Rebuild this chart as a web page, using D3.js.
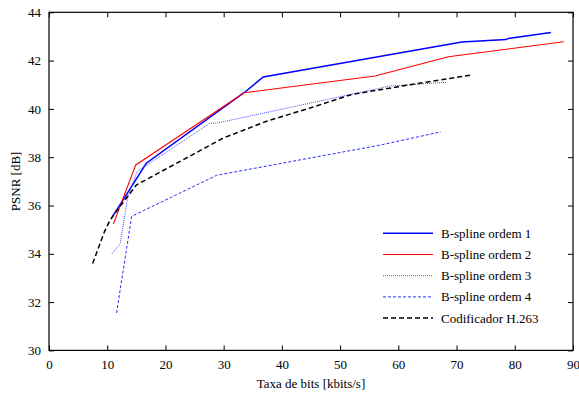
<!DOCTYPE html>
<html><head><meta charset="utf-8">
<script src="https://cdn.jsdelivr.net/npm/d3@7"></script>
<style>body{margin:0;background:#fff}svg{display:block}text{font-family:"Liberation Serif","Times New Roman",serif;fill:#000}</style>
</head><body><svg id="c" width="579" height="400"></svg>
<script>
const xTicks = [0,10,20,30,40,50,60,70,80,90];
const yTicks = [30,32,34,36,38,40,42,44];
const seriesNames = ["B-spline ordem 1","B-spline ordem 2","B-spline ordem 3","B-spline ordem 4","Codificador H.263"];
const ordem1 = [[10.8,35.5],[16.7,37.75],[33.5,40.67],[36.8,41.32],[70.9,42.77],[78.5,42.87],[78.9,42.92],[86.2,43.16]];
const ordem2 = [[11.05,35.23],[14.9,37.68],[33.5,40.67],[56,41.36],[68.6,42.16],[88.4,42.78]];
const ordem3 = [[10.8,34.0],[12.2,34.4],[13.5,36.3],[15.1,37.4],[27.6,39.4],[29,39.42],[58.6,40.95],[68.3,41.1]];
const ordem4 = [[11.6,31.55],[14.2,35.55],[28.8,37.25],[56.85,38.5],[67.3,39.05]];
const h263 = [[7.5,33.6],[9.5,34.9],[10.5,35.4],[12,35.9],[15,36.85],[20,37.5],[25,38.15],[30,38.8],[37.5,39.5],[45,40.05],[52,40.6],[60,40.92],[72.5,41.4]];

const styles = [
  {color:"#0000ff", w:1.5, dash:null},
  {color:"#ff0000", w:1.1, dash:null},
  {color:"#4b4bff", w:1, dash:"1,1"},
  {color:"#2a2aff", w:1, dash:"3,2"},
  {color:"#000000", w:1.5, dash:"5,3"}
];
const data = [ordem1, ordem2, ordem3, ordem4, h263];

const svg = d3.select("#c");
const L=49, R=573, T=12.3, B=350.4;
const x = d3.scaleLinear().domain([0,90]).range([L,R]);
const y = d3.scaleLinear().domain([30,44]).range([B,T]);

const g = svg.append("g");
g.append("g").attr("transform",`translate(0,${B})`).call(d3.axisBottom(x).tickValues(xTicks).tickSizeInner(-5).tickSizeOuter(0).tickPadding(9));
g.append("g").attr("transform",`translate(0,${T})`).call(d3.axisTop(x).tickValues(xTicks).tickSizeInner(-5).tickSizeOuter(0).tickFormat(""));
g.append("g").attr("transform",`translate(${L},0)`).call(d3.axisLeft(y).tickValues(yTicks).tickSizeInner(-5).tickSizeOuter(0).tickPadding(8));
g.append("g").attr("transform",`translate(${R},0)`).call(d3.axisRight(y).tickValues(yTicks).tickSizeInner(-5).tickSizeOuter(0).tickFormat(""));
g.selectAll(".domain").remove();
g.selectAll("g").attr("font-family",null);
g.selectAll(".tick line").attr("stroke","#000").attr("stroke-width",1);
g.selectAll(".tick text").style("font-size","13px").style("font-family",'"Liberation Serif",serif');

const line = d3.line().x(d=>x(d[0])).y(d=>y(d[1]));
data.forEach((d,i)=>{
  svg.append("path").attr("d",line(d)).attr("fill","none")
    .attr("stroke",styles[i].color).attr("stroke-width",styles[i].w)
    .attr("stroke-dasharray",styles[i].dash);
});

svg.append("rect").attr("x",L).attr("y",T).attr("width",R-L).attr("height",B-T)
  .attr("fill","none").attr("stroke","#000").attr("stroke-width",1.2);

const ly0 = 233.3, ldy = 21.2;
seriesNames.forEach((n,i)=>{
  const yy = ly0 + i*ldy;
  svg.append("line").attr("x1",383).attr("x2",433).attr("y1",yy).attr("y2",yy)
    .attr("stroke",styles[i].color).attr("stroke-width",styles[i].w)
    .attr("stroke-dasharray",styles[i].dash);
  svg.append("text").attr("x",441).attr("y",yy+4.5).style("font-size","13px").text(n);
});

svg.append("text").attr("x",(L+R)/2).attr("y",388).attr("text-anchor","middle").style("font-size","13px").text("Taxa de bits [kbits/s]");
svg.append("text").attr("transform",`translate(20,${(T+B)/2}) rotate(-90)`).attr("text-anchor","middle").style("font-size","13px").text("PSNR [dB]");
</script></body></html>
